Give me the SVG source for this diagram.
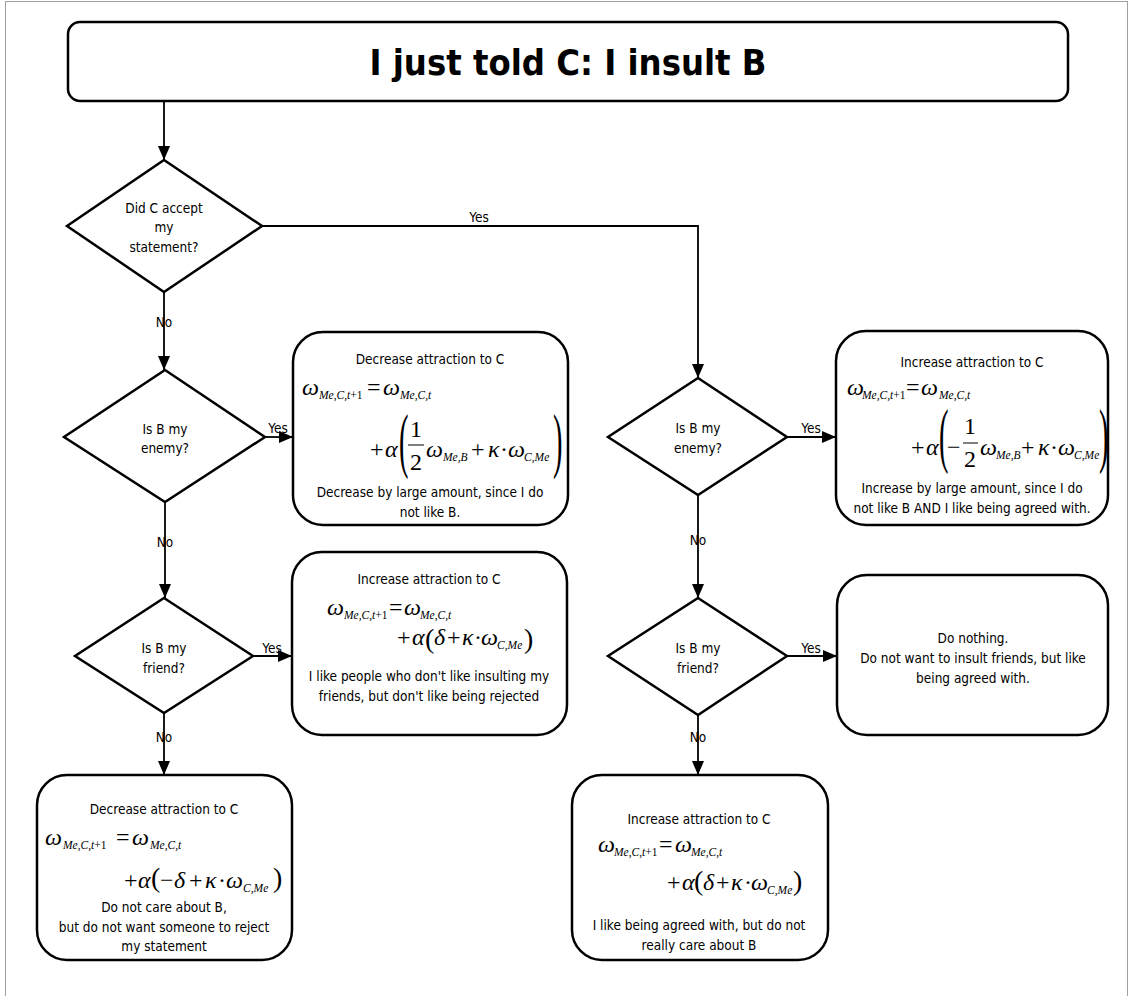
<svg xmlns="http://www.w3.org/2000/svg" width="1133" height="996" viewBox="0 0 1133 996">
<style>
.frame{fill:none;stroke:#a0a0a0;stroke-width:1}
.box{fill:#fff;stroke:#000;stroke-width:2.5}
.dia{fill:#fff;stroke:#000;stroke-width:2.5}
.con{fill:none;stroke:#000;stroke-width:1.8}
.t{font-family:"DejaVu Sans Condensed","DejaVu Sans",sans-serif;font-size:13.5px;fill:#000;text-anchor:middle}
.title{font-family:"DejaVu Sans Condensed","DejaVu Sans",sans-serif;font-weight:bold;font-size:36px;fill:#000;text-anchor:middle}
.m{font-family:"Liberation Serif","Times New Roman",serif;font-size:24px;font-style:italic;fill:#000}
.u{font-style:normal}
.s{font-size:11.5px}
.bp{font-size:71px}
.mp{font-size:28px}
.bar{stroke:#000;stroke-width:1}
</style>
<defs>
<marker id="ah" markerUnits="userSpaceOnUse" markerWidth="14" markerHeight="12" refX="14" refY="6" orient="auto">
<path d="M0,0 L14,6 L0,12 z" fill="#000"/>
</marker>
</defs>
<rect width="1133" height="996" fill="#fff"/>
<rect class="frame" x="5.5" y="1.5" width="1122" height="1010"/>

<g id="connectors">
<path class="con" d="M164,101 L164,160" marker-end="url(#ah)"/>
<path class="con" d="M262,226 L698,226 L698,378" marker-end="url(#ah)"/>
<path class="con" d="M164,292 L164,370" marker-end="url(#ah)"/>
<path class="con" d="M265,437 L293,437" marker-end="url(#ah)"/>
<path class="con" d="M165,502 L165,598" marker-end="url(#ah)"/>
<path class="con" d="M253,656 L292,656" marker-end="url(#ah)"/>
<path class="con" d="M164,713 L164,775" marker-end="url(#ah)"/>
<path class="con" d="M787,437 L836,437" marker-end="url(#ah)"/>
<path class="con" d="M698,495 L698,598" marker-end="url(#ah)"/>
<path class="con" d="M787,656 L837,656" marker-end="url(#ah)"/>
<path class="con" d="M698,715 L698,775" marker-end="url(#ah)"/>
<text class="t" x="479" y="222">Yes</text>
<text class="t" x="164" y="327">No</text>
<text class="t" x="278" y="433">Yes</text>
<text class="t" x="165" y="547">No</text>
<text class="t" x="272" y="653">Yes</text>
<text class="t" x="164" y="742">No</text>
<text class="t" x="811" y="433">Yes</text>
<text class="t" x="698" y="545">No</text>
<text class="t" x="811" y="653">Yes</text>
<text class="t" x="698" y="742">No</text>
</g>

<g id="title">
<rect class="box" x="68" y="22" width="1000" height="79" rx="12"/>
<text class="title" x="568" y="75">I just told C: I insult B</text>
</g>

<g id="d-accept">
<polygon class="dia" points="164,160 262,226 164,292 67,226"/>
<text class="t" x="164" y="213">Did C accept</text>
<text class="t" x="164" y="232">my</text>
<text class="t" x="164" y="252">statement?</text>
</g>

<g id="d-enemy-left">
<polygon class="dia" points="165,370 265,437 165,502 64,437"/>
<text class="t" x="165" y="434">Is B my</text>
<text class="t" x="165" y="453">enemy?</text>
</g>

<g id="d-friend-left">
<polygon class="dia" points="164,598 253,656 164,713 75,656"/>
<text class="t" x="164" y="653">Is B my</text>
<text class="t" x="164" y="673">friend?</text>
</g>

<g id="d-enemy-right">
<polygon class="dia" points="698,378 787,437 698,495 608,437"/>
<text class="t" x="698" y="433">Is B my</text>
<text class="t" x="698" y="453">enemy?</text>
</g>

<g id="d-friend-right">
<polygon class="dia" points="698,598 787,656 698,715 608,656"/>
<text class="t" x="698" y="653">Is B my</text>
<text class="t" x="698" y="673">friend?</text>
</g>

<g id="box-decrease-enemy">
<rect class="box" x="293" y="332" width="275" height="193" rx="30"/>
<text class="t" x="430" y="364">Decrease attraction to C</text>
<text class="m"><tspan x="302" y="395">ω</tspan><tspan class="s" x="319" y="399">Me,C,t</tspan><tspan class="s u">+1</tspan><tspan class="u" x="367" y="395">=</tspan><tspan x="383" y="395">ω</tspan><tspan class="s" x="400" y="399">Me,C,t</tspan></text>
<text class="m"><tspan class="u" x="370" y="457">+</tspan><tspan x="385" y="457">α</tspan><tspan class="u" x="416" y="437" text-anchor="middle">1</tspan><tspan class="u" x="416" y="470" text-anchor="middle">2</tspan><tspan x="426" y="457">ω</tspan><tspan class="s" x="443" y="461">Me,B</tspan><tspan class="u" x="471" y="457">+</tspan><tspan x="488" y="457">κ</tspan><tspan class="u" x="500" y="457">·</tspan><tspan x="508" y="457">ω</tspan><tspan class="s" x="524" y="461">C,Me</tspan></text>
<line class="bar" x1="408" y1="445" x2="424" y2="445"/>
<text class="m u bp" transform="translate(399,464) scale(0.4,1)">(</text>
<text class="m u bp" transform="translate(553,464) scale(0.4,1)">)</text>
<text class="t" x="430" y="497">Decrease by large amount, since I do</text>
<text class="t" x="430" y="517">not like B.</text>
</g>

<g id="box-increase-enemy">
<rect class="box" x="836" y="331" width="272" height="194" rx="30"/>
<text class="t" x="972" y="367">Increase attraction to C</text>
<text class="m"><tspan x="847" y="395">ω</tspan><tspan class="s" x="862" y="399">Me,C,t</tspan><tspan class="s u">+1</tspan><tspan class="u" x="906" y="395">=</tspan><tspan x="921" y="395">ω</tspan><tspan class="s" x="939" y="399">Me,C,t</tspan></text>
<text class="m"><tspan class="u" x="911" y="455">+</tspan><tspan x="926" y="455">α</tspan><tspan class="u" x="947" y="455">−</tspan><tspan class="u" x="970" y="434" text-anchor="middle">1</tspan><tspan class="u" x="970" y="467" text-anchor="middle">2</tspan><tspan x="980" y="455">ω</tspan><tspan class="s" x="996" y="459">Me,B</tspan><tspan class="u" x="1021" y="455">+</tspan><tspan x="1038" y="455">κ</tspan><tspan class="u" x="1050" y="455">·</tspan><tspan x="1058" y="455">ω</tspan><tspan class="s" x="1074" y="459">C,Me</tspan></text>
<line class="bar" x1="963" y1="443" x2="978" y2="443"/>
<text class="m u bp" transform="translate(939,459) scale(0.4,1)">(</text>
<text class="m u bp" transform="translate(1099,459) scale(0.4,1)">)</text>
<text class="t" x="972" y="493">Increase by large amount, since I do</text>
<text class="t" x="972" y="513">not like B AND I like being agreed with.</text>
</g>

<g id="box-increase-friend">
<rect class="box" x="292" y="552" width="275" height="183" rx="30"/>
<text class="t" x="429" y="584">Increase attraction to C</text>
<text class="m"><tspan x="327" y="615">ω</tspan><tspan class="s" x="344" y="619">Me,C,t</tspan><tspan class="s u">+1</tspan><tspan class="u" x="389" y="615">=</tspan><tspan x="404" y="615">ω</tspan><tspan class="s" x="420" y="619">Me,C,t</tspan></text>
<text class="m"><tspan class="u" x="397" y="645">+</tspan><tspan x="412" y="645">α</tspan><tspan class="u mp" x="425" y="648">(</tspan><tspan x="434" y="645">δ</tspan><tspan class="u" x="447" y="645">+</tspan><tspan x="462" y="645">κ</tspan><tspan class="u" x="474" y="645">·</tspan><tspan x="481" y="645">ω</tspan><tspan class="s" x="497" y="649">C,Me</tspan><tspan class="u mp" x="524" y="648">)</tspan></text>
<text class="t" x="429" y="681">I like people who don't like insulting my</text>
<text class="t" x="429" y="701">friends, but don't like being rejected</text>
</g>

<g id="box-decrease-neutral">
<rect class="box" x="37" y="775" width="255" height="185" rx="30"/>
<text class="t" x="164" y="814">Decrease attraction to C</text>
<text class="m"><tspan x="45" y="845">ω</tspan><tspan class="s" x="63" y="849">Me,C,t</tspan><tspan class="s u">+1</tspan><tspan class="u" x="116" y="845">=</tspan><tspan x="132" y="845">ω</tspan><tspan class="s" x="150" y="849">Me,C,t</tspan></text>
<text class="m"><tspan class="u" x="124" y="888">+</tspan><tspan x="138" y="888">α</tspan><tspan class="u mp" x="151" y="887">(</tspan><tspan class="u" x="160" y="888">−</tspan><tspan x="174" y="888">δ</tspan><tspan class="u" x="189" y="888">+</tspan><tspan x="205" y="888">κ</tspan><tspan class="u" x="218" y="888">·</tspan><tspan x="226" y="888">ω</tspan><tspan class="s" x="243" y="892">C,Me</tspan><tspan class="u mp" x="273" y="887">)</tspan></text>
<text class="t" x="164" y="912">Do not care about B,</text>
<text class="t" x="164" y="932">but do not want someone to reject</text>
<text class="t" x="164" y="951">my statement</text>
</g>

<g id="box-increase-neutral">
<rect class="box" x="572" y="775" width="256" height="185" rx="30"/>
<text class="t" x="699" y="824">Increase attraction to C</text>
<text class="m"><tspan x="598" y="852">ω</tspan><tspan class="s" x="614" y="856">Me,C,t</tspan><tspan class="s u">+1</tspan><tspan class="u" x="659" y="852">=</tspan><tspan x="675" y="852">ω</tspan><tspan class="s" x="691" y="856">Me,C,t</tspan></text>
<text class="m"><tspan class="u" x="667" y="890">+</tspan><tspan x="682" y="890">α</tspan><tspan class="u mp" x="694" y="890">(</tspan><tspan x="703" y="890">δ</tspan><tspan class="u" x="716" y="890">+</tspan><tspan x="731" y="890">κ</tspan><tspan class="u" x="744" y="890">·</tspan><tspan x="751" y="890">ω</tspan><tspan class="s" x="767" y="894">C,Me</tspan><tspan class="u mp" x="793" y="890">)</tspan></text>
<text class="t" x="699" y="930">I like being agreed with, but do not</text>
<text class="t" x="699" y="950">really care about B</text>
</g>

<g id="box-do-nothing">
<rect class="box" x="837" y="575" width="271" height="160" rx="30"/>
<text class="t" x="973" y="643">Do nothing.</text>
<text class="t" x="973" y="663">Do not want to insult friends, but like</text>
<text class="t" x="973" y="683">being agreed with.</text>
</g>
</svg>
